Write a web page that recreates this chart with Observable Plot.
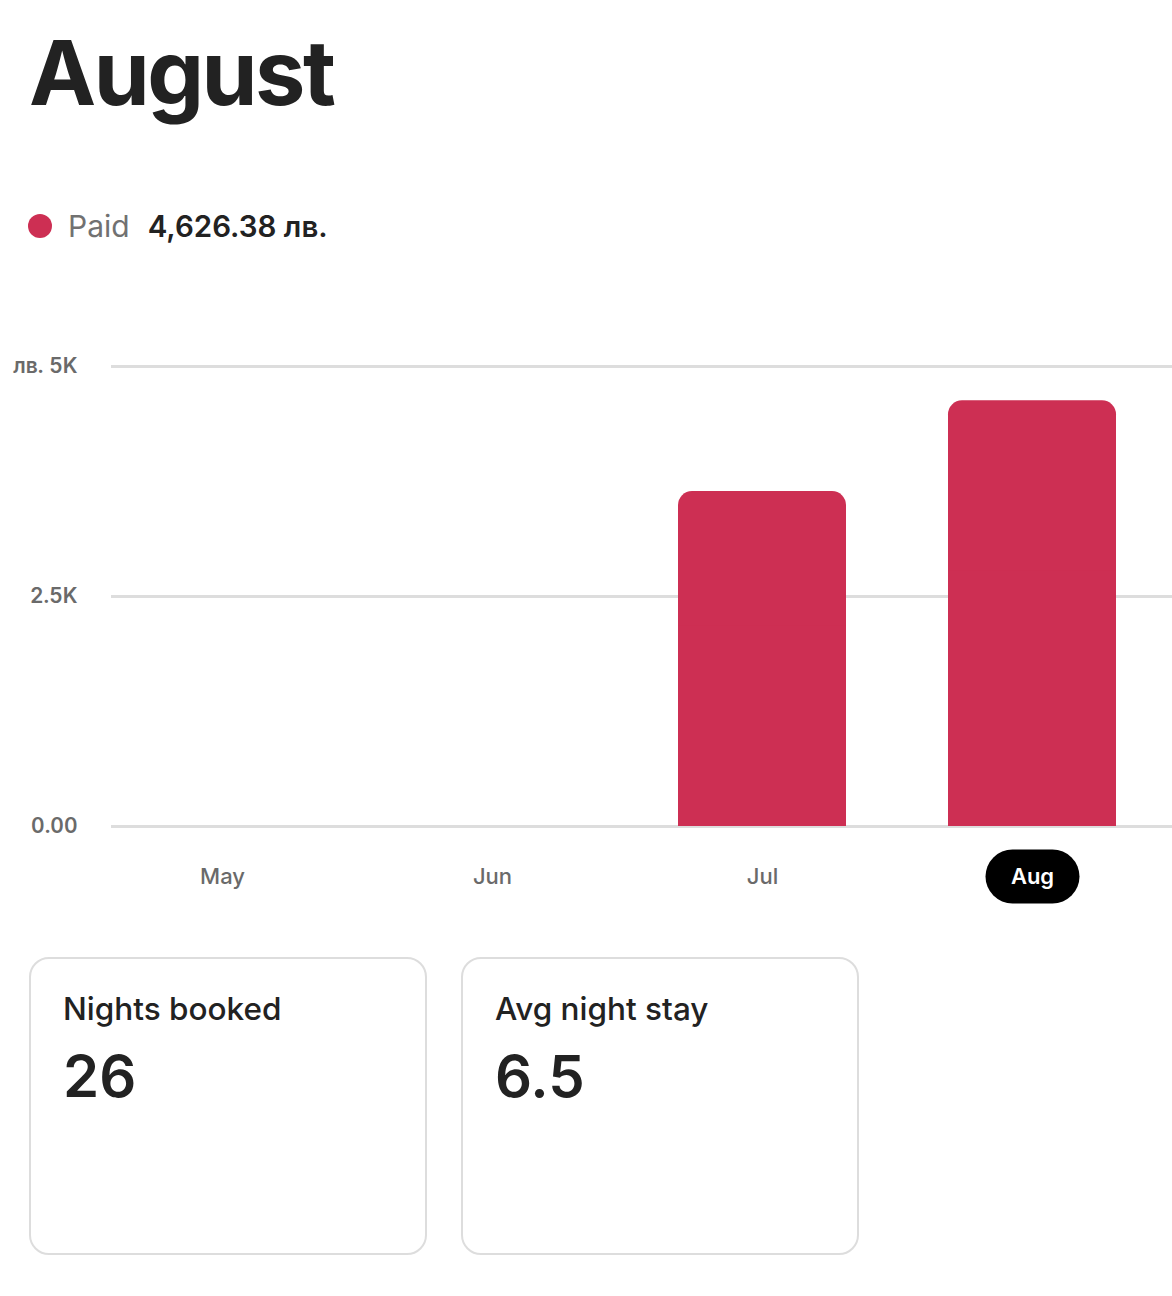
<!DOCTYPE html>
<html>
<head>
<meta charset="utf-8">
<script src="https://cdn.jsdelivr.net/npm/d3@7"></script>
<script src="https://cdn.jsdelivr.net/npm/@observablehq/plot@0.6"></script>
<style>
  html, body { margin: 0; padding: 0; background: #fff; }
  body { width: 1172px; height: 1296px; position: relative; overflow: hidden; font-family: Inter, "Noto Sans", sans-serif; color: #222222; }
  #title { position: absolute; left: 29px; top: 18px; font-size: 90px; font-weight: 700; line-height: 109px; letter-spacing: -2.5px; color: #222222; }
  #legend { position: absolute; left: 28px; top: 206px; height: 40px; display: flex; align-items: center; }
  #legend .dot { width: 24px; height: 24px; border-radius: 50%; background: #cd2f53; margin-right: 16px; }
  #legend .lab { font-size: 30px; font-weight: 400; color: #717171; margin-right: 18px; }
  #legend .val { font-size: 29.5px; font-weight: 600; color: #222222; }
  #chart { position: absolute; left: 0; top: 300px; }
  .card { position: absolute; top: 957px; width: 394px; height: 294px; border: 2px solid #dddddd; border-radius: 20px; box-sizing: content-box; }
  .card .ct { position: absolute; left: 32px; top: 30px; font-size: 31.5px; font-weight: 500; color: #222222; line-height: 40px; }
  .card .cv { position: absolute; left: 32px; top: 81px; font-size: 58px; font-weight: 600; color: #222222; line-height: 72px; }
</style>
</head>
<body>
<div id="title"></div>
<div id="legend"><div class="dot"></div><div class="lab"></div><div class="val"></div></div>
<div id="chart"></div>
<div id="cards"></div>
<script>
// ---- data ----
const pageTitle = "August";
const seriesName = "Paid";
const seriesTotalLabel = "4,626.38 лв.";
const months = ["May", "Jun", "Jul", "Aug"];
const paid = [0, 0, 3640, 4626.38];
const selectedMonth = "Aug";
const yTicks = [0, 2500, 5000];
const yTickLabels = ["0.00", "2.5K", "лв. 5K"];
const cardTitles = ["Nights booked", "Avg night stay"];
const cardValues = ["26", "6.5"];

// ---- header ----
document.getElementById("title").textContent = pageTitle;
document.querySelector("#legend .lab").textContent = seriesName;
document.querySelector("#legend .val").textContent = seriesTotalLabel;

// ---- chart ----
const data = months.map((m, i) => ({month: m, paid: paid[i]}));
const barData = data.filter(d => d.paid > 0);
const barColor = "#cd2f53";

const pill = {
  draw(ctx) {
    const hw = 47, r = 27;
    ctx.moveTo(-hw + r, -r);
    ctx.lineTo(hw - r, -r);
    ctx.arc(hw - r, 0, r, -Math.PI / 2, Math.PI / 2);
    ctx.lineTo(-hw + r, r);
    ctx.arc(-hw + r, 0, r, Math.PI / 2, 3 * Math.PI / 2);
    ctx.closePath();
  }
};

const chart = Plot.plot({
  width: 1172,
  height: 620,
  marginTop: 66,
  marginBottom: 94,
  marginLeft: 111,
  marginRight: 0,
  style: {fontFamily: "Inter, 'Noto Sans', sans-serif", overflow: "hidden", background: "white"},
  x: {domain: months, range: [87, 1167], padding: 0, axis: null},
  y: {domain: [0, 5000], axis: null, label: null},
  marks: [
    Plot.ruleY(yTicks, {stroke: "#dddddd", strokeWidth: 3}),
    Plot.axisY(yTicks, {
      label: null, tickSize: 0, tickPadding: 34, fontSize: 21, fontWeight: 600, fill: "#6a6a6a",
      tickFormat: (d) => yTickLabels[yTicks.indexOf(d)]
    }),
    Plot.barY(barData, {x: "month", y: "paid", fill: barColor, insetLeft: 51, insetRight: 51, rx: 14}),
    Plot.barY(barData, {x: "month", y: d => d.paid * 0.6, fill: barColor, insetLeft: 51, insetRight: 51}),
    Plot.dot([selectedMonth], {x: d => d, frameAnchor: "bottom", dy: 50, symbol: pill, r: 10, fill: "black", stroke: "none"}),
    Plot.text(months.filter(m => m !== selectedMonth), {
      x: d => d, text: d => d, frameAnchor: "bottom", dy: 57,
      fontSize: 22, fontWeight: 500, fill: "#6a6a6a"
    }),
    Plot.text([selectedMonth], {
      x: d => d, text: d => d, frameAnchor: "bottom", dy: 57,
      fontSize: 22, fontWeight: 600, fill: "white"
    })
  ]
});
document.getElementById("chart").appendChild(chart);

// ---- cards ----
const cardsEl = document.getElementById("cards");
cardTitles.forEach((t, i) => {
  const c = document.createElement("div");
  c.className = "card";
  c.style.left = (29 + i * 432) + "px";
  const ct = document.createElement("div"); ct.className = "ct"; ct.textContent = t;
  const cv = document.createElement("div"); cv.className = "cv"; cv.textContent = cardValues[i];
  c.appendChild(ct); c.appendChild(cv);
  cardsEl.appendChild(c);
});
</script>
</body>
</html>
